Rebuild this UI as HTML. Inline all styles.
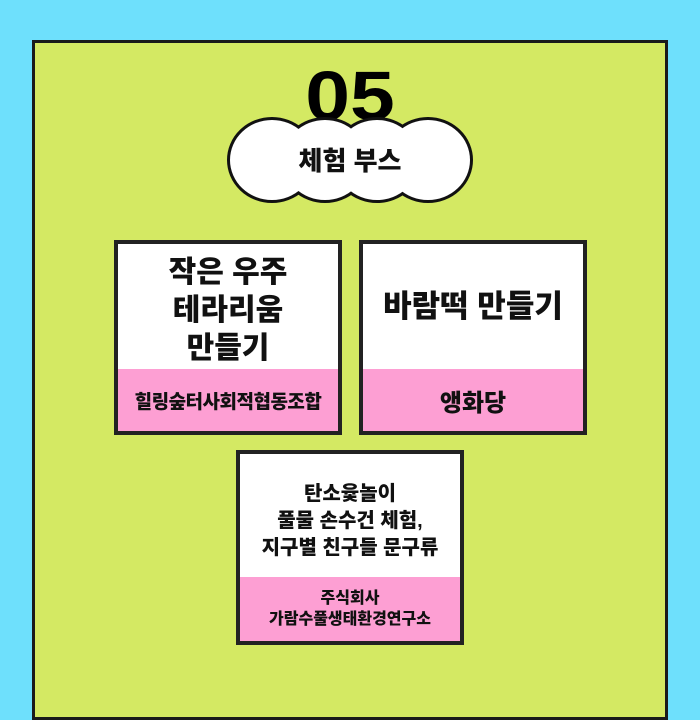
<!DOCTYPE html>
<html><head><meta charset="utf-8"><style>
*{margin:0;padding:0;box-sizing:border-box}
body{width:700px;height:700px;background:#6ee0fc;position:relative;overflow:hidden;font-family:"Liberation Sans","Noto Sans CJK KR",sans-serif}
.panel{position:absolute;left:32px;top:40px;width:636px;height:680px;background:#d4e963;border:3px solid #1a1a1a}
.n05{position:absolute;left:0;width:700px;top:56px;text-align:center;font-size:70px;font-weight:900;color:#000;transform:scaleX(1.15);font-family:"Liberation Sans",sans-serif}
.box{position:absolute;background:#fff;border:4px solid #222;width:228px;height:195px}
.box .t{position:absolute;left:0;right:0;text-align:center;font-weight:900;color:#111}
.box .p{position:absolute;left:0;right:0;bottom:0;background:#fd9fd3;display:flex;align-items:center;justify-content:center;text-align:center;font-weight:900;color:#111}
</style></head><body>
<div class="panel"></div>
<div class="n05">05</div>
<svg style="position:absolute;left:0;top:0" width="700" height="700">
<g fill="#fff" stroke="#111" stroke-width="6">
<ellipse cx="272" cy="160" rx="42" ry="40"/><ellipse cx="325" cy="160" rx="42" ry="40"/><ellipse cx="377" cy="160" rx="42" ry="40"/><ellipse cx="428" cy="160" rx="42" ry="40"/>
</g>
<g fill="#fff">
<ellipse cx="272" cy="160" rx="42" ry="40"/><ellipse cx="325" cy="160" rx="42" ry="40"/><ellipse cx="377" cy="160" rx="42" ry="40"/><ellipse cx="428" cy="160" rx="42" ry="40"/>
</g>
<text x="350" y="170" text-anchor="middle" font-family="Liberation Sans, Noto Sans CJK KR, sans-serif" font-weight="900" font-size="26" fill="#111">체험 부스</text>
</svg>
<div class="box" style="left:114px;top:240px">
<div class="t" style="top:10px;font-size:30px;line-height:38px">작은 우주<br>테라리움<br>만들기</div>
<div class="p" style="height:62px;font-size:19px;letter-spacing:-0.5px">힐링숲터사회적협동조합</div>
</div>
<div class="box" style="left:359px;top:240px">
<div class="t" style="top:44px;font-size:31px;line-height:38px">바람떡 만들기</div>
<div class="p" style="height:62px;font-size:24px">앵화당</div>
</div>
<div class="box" style="left:236px;top:450px">
<div class="t" style="top:27px;font-size:20px;line-height:27px">탄소윷놀이<br>풀물 손수건 체험,<br>지구별 친구들 문구류</div>
<div class="p" style="height:64px;font-size:16px;line-height:21px">주식회사<br>가람수풀생태환경연구소</div>
</div>
</body></html>
